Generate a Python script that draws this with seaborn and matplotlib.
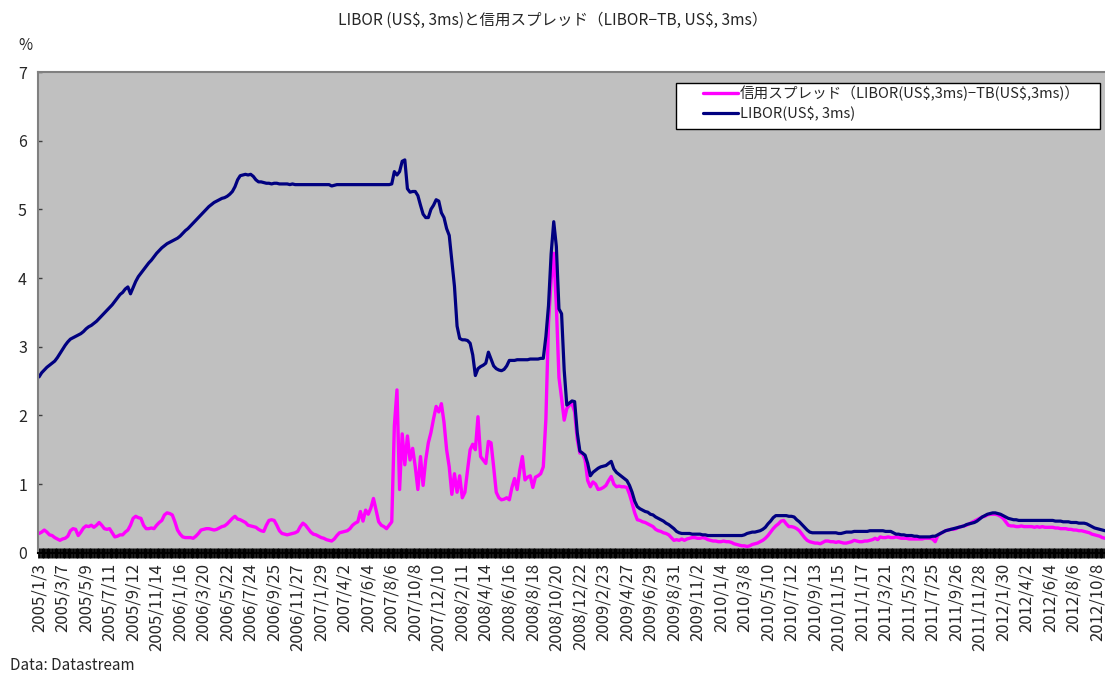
import pandas as pd
import matplotlib.pyplot as plt
import seaborn as sns
from matplotlib.patches import Rectangle

# weekly values, first point 2005/1/3
libor_2005 = [2.56, 2.62, 2.66, 2.70, 2.73, 2.76, 2.79, 2.84, 2.90, 2.96, 3.02, 3.07, 3.11,
              3.13, 3.15, 3.17, 3.19, 3.22, 3.26, 3.29, 3.31, 3.34, 3.37, 3.41, 3.45, 3.49,
              3.53, 3.57, 3.61, 3.66, 3.71, 3.76, 3.79, 3.84, 3.87, 3.77, 3.86, 3.95, 4.02,
              4.07, 4.12, 4.17, 4.22, 4.26, 4.31, 4.36, 4.40, 4.44, 4.47, 4.50, 4.52, 4.54]
libor_2006 = [4.56, 4.58, 4.61, 4.65, 4.69, 4.72, 4.76, 4.80, 4.84, 4.88, 4.92, 4.96, 5.00,
              5.04, 5.07, 5.10, 5.12, 5.14, 5.16, 5.17, 5.19, 5.22, 5.26, 5.33, 5.43, 5.49,
              5.50, 5.51, 5.50, 5.51, 5.48, 5.43, 5.40, 5.40, 5.39, 5.38, 5.38, 5.37, 5.38,
              5.38, 5.37, 5.37, 5.37, 5.37, 5.36, 5.37, 5.36, 5.36, 5.36, 5.36, 5.36, 5.36]
libor_2007 = [5.36, 5.36, 5.36, 5.36, 5.36, 5.36, 5.36, 5.36, 5.34, 5.35, 5.36, 5.36, 5.36,
              5.36, 5.36, 5.36, 5.36, 5.36, 5.36, 5.36, 5.36, 5.36, 5.36, 5.36, 5.36, 5.36,
              5.36, 5.36, 5.36, 5.36, 5.36, 5.37, 5.55, 5.50, 5.55, 5.70, 5.72, 5.30, 5.25,
              5.26, 5.26, 5.20, 5.06, 4.93, 4.88, 4.88, 5.00, 5.06, 5.14, 5.12, 4.95, 4.88]
libor_2008 = [4.72, 4.62, 4.25, 3.88, 3.30, 3.12, 3.10, 3.10, 3.09, 3.05, 2.88, 2.58, 2.68,
              2.71, 2.73, 2.76, 2.92, 2.82, 2.72, 2.68, 2.66, 2.65, 2.67, 2.72, 2.80, 2.80,
              2.80, 2.81, 2.81, 2.81, 2.81, 2.81, 2.82, 2.82, 2.82, 2.82, 2.83, 2.83, 3.15,
              3.60, 4.35, 4.82, 4.46, 3.55, 3.48, 2.66, 2.15, 2.18, 2.21, 2.20, 1.75, 1.48]
libor_2009 = [1.45, 1.42, 1.30, 1.12, 1.17, 1.20, 1.23, 1.25, 1.26, 1.27, 1.30, 1.33, 1.22,
              1.17, 1.14, 1.11, 1.08, 1.05, 0.98, 0.88, 0.75, 0.67, 0.64, 0.62, 0.60, 0.59,
              0.56, 0.55, 0.52, 0.50, 0.48, 0.46, 0.43, 0.41, 0.38, 0.35, 0.31, 0.29, 0.28,
              0.28, 0.28, 0.28, 0.27, 0.27, 0.27, 0.27, 0.26, 0.26, 0.25, 0.25, 0.25, 0.25]
libor_2010 = [0.25, 0.25, 0.25, 0.25, 0.25, 0.25, 0.25, 0.25, 0.25, 0.25, 0.26, 0.28, 0.29,
              0.30, 0.30, 0.31, 0.32, 0.34, 0.37, 0.42, 0.46, 0.51, 0.54, 0.54, 0.54, 0.54,
              0.54, 0.53, 0.53, 0.52, 0.48, 0.45, 0.41, 0.37, 0.33, 0.30, 0.29, 0.29, 0.29,
              0.29, 0.29, 0.29, 0.29, 0.29, 0.29, 0.29, 0.28, 0.28, 0.29, 0.30, 0.30, 0.30]
libor_2011 = [0.31, 0.31, 0.31, 0.31, 0.31, 0.31, 0.32, 0.32, 0.32, 0.32, 0.32, 0.32, 0.31,
              0.31, 0.31, 0.29, 0.27, 0.27, 0.26, 0.26, 0.25, 0.25, 0.25, 0.24, 0.24, 0.23,
              0.23, 0.23, 0.23, 0.23, 0.24, 0.24, 0.26, 0.28, 0.30, 0.32, 0.33, 0.34, 0.35,
              0.36, 0.37, 0.38, 0.39, 0.41, 0.42, 0.43, 0.44, 0.46, 0.49, 0.52, 0.54, 0.56]
libor_2012 = [0.57, 0.58, 0.58, 0.57, 0.56, 0.54, 0.52, 0.50, 0.49, 0.48, 0.48, 0.47, 0.47,
              0.47, 0.47, 0.47, 0.47, 0.47, 0.47, 0.47, 0.47, 0.47, 0.47, 0.47, 0.47, 0.46,
              0.46, 0.46, 0.45, 0.45, 0.45, 0.44, 0.44, 0.44, 0.43, 0.43, 0.43, 0.42, 0.40,
              0.38, 0.36, 0.35, 0.34, 0.33, 0.32]

spread_2005 = [0.28, 0.30, 0.33, 0.30, 0.26, 0.25, 0.22, 0.20, 0.18, 0.20, 0.21, 0.24, 0.32,
               0.35, 0.34, 0.25, 0.30, 0.36, 0.39, 0.38, 0.40, 0.37, 0.40, 0.44, 0.40, 0.35,
               0.34, 0.35, 0.29, 0.23, 0.24, 0.26, 0.26, 0.30, 0.33, 0.40, 0.50, 0.53, 0.51,
               0.50, 0.40, 0.35, 0.35, 0.36, 0.35, 0.40, 0.44, 0.47, 0.55, 0.58, 0.57, 0.55]
spread_2006 = [0.45, 0.33, 0.27, 0.23, 0.22, 0.22, 0.22, 0.21, 0.24, 0.28, 0.33, 0.34, 0.35,
               0.35, 0.34, 0.33, 0.34, 0.36, 0.38, 0.39, 0.42, 0.46, 0.50, 0.53, 0.49, 0.48,
               0.46, 0.44, 0.40, 0.39, 0.38, 0.37, 0.34, 0.32, 0.31, 0.40, 0.47, 0.48, 0.47,
               0.40, 0.32, 0.28, 0.27, 0.26, 0.27, 0.28, 0.29, 0.31, 0.38, 0.43, 0.40, 0.35]
spread_2007 = [0.30, 0.27, 0.26, 0.24, 0.22, 0.21, 0.19, 0.18, 0.17, 0.20, 0.25, 0.29, 0.30,
               0.31, 0.32, 0.35, 0.40, 0.43, 0.45, 0.60, 0.46, 0.62, 0.56, 0.65, 0.79, 0.62,
               0.45, 0.40, 0.38, 0.35, 0.40, 0.45, 1.85, 2.37, 0.92, 1.73, 1.28, 1.70, 1.35,
               1.52, 1.25, 0.92, 1.40, 0.98, 1.35, 1.60, 1.75, 1.95, 2.13, 2.05, 2.17, 1.90]
spread_2008 = [1.50, 1.25, 0.85, 1.15, 0.88, 1.12, 0.80, 0.88, 1.20, 1.50, 1.58, 1.50, 1.98,
               1.40, 1.35, 1.30, 1.62, 1.60, 1.25, 0.88, 0.80, 0.77, 0.78, 0.80, 0.77, 0.95,
               1.08, 0.92, 1.20, 1.40, 1.06, 1.10, 1.12, 0.95, 1.10, 1.12, 1.15, 1.25, 1.95,
               3.35, 3.97, 4.36, 3.60, 2.55, 2.25, 1.93, 2.10, 2.15, 2.17, 2.05, 1.65, 1.45]
spread_2009 = [1.45, 1.35, 1.05, 0.96, 1.03, 1.00, 0.92, 0.93, 0.95, 0.98, 1.05, 1.11, 1.00,
               0.96, 0.97, 0.96, 0.96, 0.95, 0.85, 0.72, 0.58, 0.48, 0.47, 0.45, 0.44, 0.42,
               0.40, 0.38, 0.34, 0.32, 0.31, 0.29, 0.28, 0.26, 0.22, 0.18, 0.19, 0.18, 0.20,
               0.18, 0.20, 0.21, 0.22, 0.22, 0.21, 0.21, 0.22, 0.21, 0.19, 0.18, 0.17, 0.17]
spread_2010 = [0.16, 0.16, 0.17, 0.16, 0.16, 0.15, 0.13, 0.12, 0.11, 0.10, 0.10, 0.09, 0.10,
               0.12, 0.13, 0.14, 0.16, 0.18, 0.21, 0.25, 0.30, 0.35, 0.39, 0.42, 0.46, 0.47,
               0.42, 0.38, 0.38, 0.37, 0.35, 0.32, 0.27, 0.22, 0.18, 0.16, 0.15, 0.14, 0.14,
               0.13, 0.15, 0.17, 0.17, 0.16, 0.16, 0.15, 0.16, 0.15, 0.14, 0.14, 0.15, 0.16]
spread_2011 = [0.18, 0.17, 0.16, 0.16, 0.17, 0.17, 0.18, 0.19, 0.21, 0.19, 0.23, 0.22, 0.22,
               0.23, 0.22, 0.22, 0.23, 0.22, 0.21, 0.21, 0.21, 0.20, 0.20, 0.20, 0.20, 0.20,
               0.20, 0.21, 0.21, 0.21, 0.20, 0.16, 0.25, 0.28, 0.30, 0.32, 0.33, 0.34, 0.34,
               0.35, 0.37, 0.38, 0.39, 0.40, 0.42, 0.44, 0.46, 0.48, 0.50, 0.52, 0.53, 0.55]
spread_2012 = [0.56, 0.56, 0.56, 0.55, 0.53, 0.50, 0.45, 0.40, 0.39, 0.39, 0.38, 0.38, 0.39,
               0.38, 0.38, 0.38, 0.38, 0.37, 0.38, 0.37, 0.38, 0.37, 0.37, 0.37, 0.37, 0.36,
               0.36, 0.35, 0.35, 0.35, 0.34, 0.34, 0.33, 0.33, 0.32, 0.32, 0.31, 0.30, 0.29,
               0.27, 0.26, 0.25, 0.24, 0.22, 0.21]

# one label every 9 weeks
tick_labels = ["2005/1/3", "2005/3/7", "2005/5/9", "2005/7/11", "2005/9/12", "2005/11/14",
               "2006/1/16", "2006/3/20", "2006/5/22", "2006/7/24", "2006/9/25", "2006/11/27",
               "2007/1/29", "2007/4/2", "2007/6/4", "2007/8/6", "2007/10/8", "2007/12/10",
               "2008/2/11", "2008/4/14", "2008/6/16", "2008/8/18", "2008/10/20", "2008/12/22",
               "2009/2/23", "2009/4/27", "2009/6/29", "2009/8/31", "2009/11/2",
               "2010/1/4", "2010/3/8", "2010/5/10", "2010/7/12", "2010/9/13", "2010/11/15",
               "2011/1/17", "2011/3/21", "2011/5/23", "2011/7/25", "2011/9/26", "2011/11/28",
               "2012/1/30", "2012/4/2", "2012/6/4", "2012/8/6", "2012/10/8"]

title = r"LIBOR (US\$, 3ms)と信用スプレッド（LIBOR−TB, US\$, 3ms）"
spread_label = r"信用スプレッド（LIBOR(US\$,3ms)−TB(US\$,3ms)）"
libor_label = r"LIBOR(US\$, 3ms)"

libor = libor_2005 + libor_2006 + libor_2007 + libor_2008 + libor_2009 + libor_2010 + libor_2011 + libor_2012
spread = spread_2005 + spread_2006 + spread_2007 + spread_2008 + spread_2009 + spread_2010 + spread_2011 + spread_2012
df = pd.DataFrame({'week': range(len(libor)), 'libor': libor, 'spread': spread})

sns.set_style("white")
plt.rcParams['font.family'] = ['Noto Sans CJK JP', 'DejaVu Sans']

W, H = 1105, 677
fig = plt.figure(figsize=(W / 100, H / 100), dpi=100)
ax = fig.add_axes([38 / W, 1 - 552.7 / H, 1 - 38 / W, (552.7 - 72) / H])
ax.set_facecolor('#C0C0C0')

sns.lineplot(data=df, x='week', y='spread', color='#FF00FF', lw=2.4, ax=ax, label=spread_label)
sns.lineplot(data=df, x='week', y='libor', color='#000080', lw=2.3, ax=ax, label=libor_label)
handles, labels = ax.get_legend_handles_labels()
if ax.get_legend():
    ax.get_legend().remove()

ax.set_xlim(-0.4, 407.6)
ax.set_ylim(0, 7)
ax.set_xlabel('')
ax.set_ylabel('')

ax.set_xticks(range(0, 9 * len(tick_labels), 9))
ax.set_xticklabels(tick_labels, rotation=90, fontsize=12)
ax.set_xticks(range(len(libor)), minor=True)
# dense tick marks form the black band under the plot
ax.tick_params(axis='x', which='both', bottom=True, direction='inout', length=7, width=2.0,
               color='black', pad=4)
ax.set_yticks(range(0, 8))
ax.tick_params(axis='y', left=True, direction='in', length=3, width=1, color='#404040',
               labelsize=11.5, pad=8)

for side in ['left', 'top']:
    ax.spines[side].set_color('#808080')
    ax.spines[side].set_linewidth(1.5)
ax.spines['right'].set_visible(False)
ax.spines['bottom'].set_color('black')
ax.spines['bottom'].set_linewidth(1.5)

fig.text(0.5, 1 - 20 / H, title, ha='center', va='center', fontsize=11.2)
fig.text(25 / W, 1 - 45 / H, '%', ha='center', va='center', fontsize=11)
fig.text(10 / W, 1 - 666 / H, 'Data: Datastream', ha='left', va='center', fontsize=11)

# legend box
fig.add_artist(Rectangle((676 / W, 1 - 129 / H), 424 / W, 46 / H, transform=fig.transFigure,
                         facecolor='white', edgecolor='black', lw=1, zorder=3))
fig.legend(handles, labels, loc='upper left', bbox_to_anchor=(700 / W, 1 - 83 / H),
           frameon=False, fontsize=10.5, handlelength=2.4, handletextpad=0.15,
           labelspacing=0.35, borderpad=0.2, borderaxespad=0)

plt.savefig('out.png', dpi=100)
